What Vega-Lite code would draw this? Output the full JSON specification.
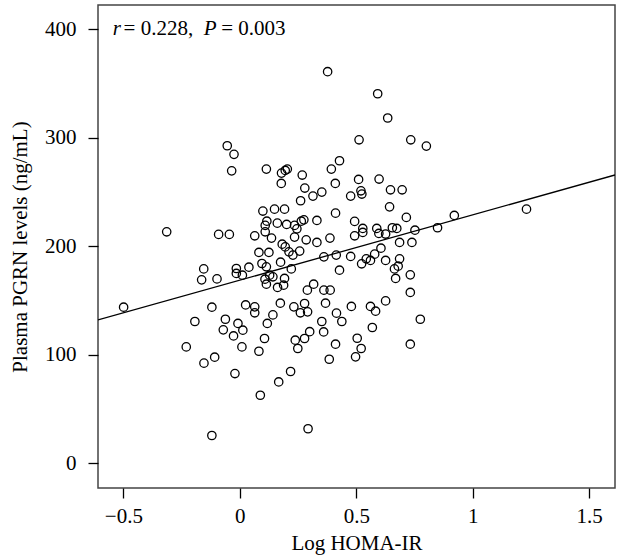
{
  "$schema": "https://vega.github.io/schema/vega-lite/v6.json",
  "width": 517,
  "height": 483,
  "autosize": {"type": "none"},
  "padding": {"left": 98, "top": 5, "right": 4, "bottom": 69},
  "background": "white",
  "config": {
    "view": {"stroke": "#444444", "strokeWidth": 1.5},
    "axis": {
      "labelFont": "Liberation Serif",
      "labelFontSize": 21,
      "labelColor": "black",
      "titleFont": "Liberation Serif",
      "titleFontSize": 21,
      "titleFontWeight": "normal",
      "titleColor": "black",
      "tickColor": "black",
      "tickSize": 10,
      "tickWidth": 1.3,
      "domain": false,
      "grid": false
    }
  },
  "datasets": {
    "points": [
      {"lx": -0.054, "pgrn": 292.7}, {"lx": -0.025, "pgrn": 284.8}, {"lx": -0.035, "pgrn": 269.6},
      {"lx": -0.314, "pgrn": 213.4}, {"lx": -0.091, "pgrn": 211.0}, {"lx": -0.045, "pgrn": 211.0},
      {"lx": -0.155, "pgrn": 179.2}, {"lx": -0.164, "pgrn": 169.1}, {"lx": -0.098, "pgrn": 170.0},
      {"lx": -0.015, "pgrn": 179.6}, {"lx": -0.015, "pgrn": 175.0}, {"lx": -0.499, "pgrn": 143.9},
      {"lx": -0.120, "pgrn": 143.9}, {"lx": -0.193, "pgrn": 130.7}, {"lx": -0.062, "pgrn": 132.8},
      {"lx": -0.071, "pgrn": 123.0}, {"lx": -0.027, "pgrn": 117.4}, {"lx": -0.008, "pgrn": 128.9},
      {"lx": 0.009, "pgrn": 107.3}, {"lx": -0.230, "pgrn": 107.3}, {"lx": -0.108, "pgrn": 97.8},
      {"lx": -0.154, "pgrn": 92.3}, {"lx": -0.021, "pgrn": 82.7}, {"lx": -0.120, "pgrn": 25.6},
      {"lx": 0.114, "pgrn": 271.2}, {"lx": 0.179, "pgrn": 267.5}, {"lx": 0.195, "pgrn": 270.0},
      {"lx": 0.204, "pgrn": 271.2}, {"lx": 0.268, "pgrn": 265.7}, {"lx": 0.178, "pgrn": 258.0},
      {"lx": 0.393, "pgrn": 271.2}, {"lx": 0.428, "pgrn": 278.9}, {"lx": 0.410, "pgrn": 258.0},
      {"lx": 0.279, "pgrn": 253.7}, {"lx": 0.314, "pgrn": 246.3}, {"lx": 0.352, "pgrn": 250.0},
      {"lx": 0.261, "pgrn": 242.0}, {"lx": 0.476, "pgrn": 246.3}, {"lx": 0.510, "pgrn": 261.7},
      {"lx": 0.520, "pgrn": 251.2}, {"lx": 0.524, "pgrn": 248.2}, {"lx": 0.099, "pgrn": 232.5},
      {"lx": 0.149, "pgrn": 234.3}, {"lx": 0.192, "pgrn": 234.3}, {"lx": 0.411, "pgrn": 230.6},
      {"lx": 0.064, "pgrn": 209.7}, {"lx": 0.109, "pgrn": 213.4}, {"lx": 0.116, "pgrn": 223.2},
      {"lx": 0.109, "pgrn": 219.3}, {"lx": 0.161, "pgrn": 221.4}, {"lx": 0.201, "pgrn": 220.2},
      {"lx": 0.235, "pgrn": 219.3}, {"lx": 0.245, "pgrn": 216.1}, {"lx": 0.264, "pgrn": 223.2},
      {"lx": 0.275, "pgrn": 224.4}, {"lx": 0.331, "pgrn": 223.9}, {"lx": 0.493, "pgrn": 223.0},
      {"lx": 0.136, "pgrn": 207.6}, {"lx": 0.235, "pgrn": 208.5}, {"lx": 0.285, "pgrn": 206.0},
      {"lx": 0.331, "pgrn": 203.6}, {"lx": 0.387, "pgrn": 207.6}, {"lx": 0.493, "pgrn": 209.7},
      {"lx": 0.182, "pgrn": 202.0}, {"lx": 0.195, "pgrn": 199.5}, {"lx": 0.211, "pgrn": 194.9},
      {"lx": 0.228, "pgrn": 191.9}, {"lx": 0.257, "pgrn": 195.6}, {"lx": 0.082, "pgrn": 194.4},
      {"lx": 0.125, "pgrn": 194.4}, {"lx": 0.361, "pgrn": 190.3}, {"lx": 0.414, "pgrn": 191.9},
      {"lx": 0.476, "pgrn": 190.7}, {"lx": 0.095, "pgrn": 184.2}, {"lx": 0.114, "pgrn": 181.1},
      {"lx": 0.175, "pgrn": 185.4}, {"lx": 0.221, "pgrn": 179.2}, {"lx": 0.428, "pgrn": 178.0},
      {"lx": 0.011, "pgrn": 173.4}, {"lx": 0.039, "pgrn": 180.8}, {"lx": 0.108, "pgrn": 169.7},
      {"lx": 0.114, "pgrn": 165.1}, {"lx": 0.128, "pgrn": 173.4}, {"lx": 0.142, "pgrn": 171.9},
      {"lx": 0.192, "pgrn": 170.4}, {"lx": 0.188, "pgrn": 164.2}, {"lx": 0.162, "pgrn": 162.1},
      {"lx": 0.317, "pgrn": 165.1}, {"lx": 0.290, "pgrn": 159.6}, {"lx": 0.361, "pgrn": 159.6},
      {"lx": 0.388, "pgrn": 159.6}, {"lx": 0.025, "pgrn": 146.0}, {"lx": 0.064, "pgrn": 144.2},
      {"lx": 0.064, "pgrn": 138.7}, {"lx": 0.174, "pgrn": 147.6}, {"lx": 0.142, "pgrn": 136.8},
      {"lx": 0.232, "pgrn": 144.2}, {"lx": 0.278, "pgrn": 147.3}, {"lx": 0.260, "pgrn": 138.7},
      {"lx": 0.291, "pgrn": 139.6}, {"lx": 0.013, "pgrn": 122.7}, {"lx": 0.118, "pgrn": 128.9},
      {"lx": 0.106, "pgrn": 115.0}, {"lx": 0.082, "pgrn": 103.3}, {"lx": 0.238, "pgrn": 113.5},
      {"lx": 0.249, "pgrn": 105.8}, {"lx": 0.278, "pgrn": 115.0}, {"lx": 0.300, "pgrn": 121.3},
      {"lx": 0.218, "pgrn": 84.6}, {"lx": 0.167, "pgrn": 75.0}, {"lx": 0.088, "pgrn": 62.7},
      {"lx": 0.293, "pgrn": 31.8}, {"lx": 0.643, "pgrn": 236.4}, {"lx": 0.528, "pgrn": 216.5},
      {"lx": 0.528, "pgrn": 212.8}, {"lx": 0.588, "pgrn": 216.5}, {"lx": 0.597, "pgrn": 211.9},
      {"lx": 0.626, "pgrn": 211.3}, {"lx": 0.655, "pgrn": 217.1}, {"lx": 0.674, "pgrn": 216.5},
      {"lx": 0.715, "pgrn": 226.7}, {"lx": 0.752, "pgrn": 214.9}, {"lx": 0.849, "pgrn": 217.1},
      {"lx": 0.921, "pgrn": 228.5}, {"lx": 1.231, "pgrn": 234.3}, {"lx": 0.686, "pgrn": 203.6},
      {"lx": 0.739, "pgrn": 203.6}, {"lx": 0.606, "pgrn": 198.3}, {"lx": 0.579, "pgrn": 192.8},
      {"lx": 0.543, "pgrn": 188.5}, {"lx": 0.523, "pgrn": 183.9}, {"lx": 0.561, "pgrn": 187.0},
      {"lx": 0.626, "pgrn": 187.0}, {"lx": 0.686, "pgrn": 188.5}, {"lx": 0.680, "pgrn": 181.7},
      {"lx": 0.664, "pgrn": 179.2}, {"lx": 0.669, "pgrn": 170.4}, {"lx": 0.732, "pgrn": 173.7},
      {"lx": 0.732, "pgrn": 157.5}, {"lx": 0.598, "pgrn": 262.0}, {"lx": 0.647, "pgrn": 252.1},
      {"lx": 0.697, "pgrn": 252.1}, {"lx": 0.377, "pgrn": 361.0}, {"lx": 0.592, "pgrn": 340.7},
      {"lx": 0.635, "pgrn": 318.3}, {"lx": 0.512, "pgrn": 298.2}, {"lx": 0.734, "pgrn": 298.2},
      {"lx": 0.801, "pgrn": 292.4}, {"lx": 0.368, "pgrn": 147.6}, {"lx": 0.479, "pgrn": 144.6},
      {"lx": 0.561, "pgrn": 144.6}, {"lx": 0.583, "pgrn": 140.2}, {"lx": 0.626, "pgrn": 149.7},
      {"lx": 0.415, "pgrn": 138.4}, {"lx": 0.438, "pgrn": 130.7}, {"lx": 0.352, "pgrn": 130.7},
      {"lx": 0.360, "pgrn": 121.1}, {"lx": 0.411, "pgrn": 109.8}, {"lx": 0.504, "pgrn": 115.3},
      {"lx": 0.521, "pgrn": 105.8}, {"lx": 0.497, "pgrn": 98.1}, {"lx": 0.384, "pgrn": 95.9},
      {"lx": 0.569, "pgrn": 125.2}, {"lx": 0.775, "pgrn": 132.8}, {"lx": 0.732, "pgrn": 109.8}
    ],
    "fit": [
      {"lx": -0.609, "pgrn": 132.1},
      {"lx": 1.611, "pgrn": 265.8}
    ]
  },
  "layer": [
    {
      "data": {"name": "points"},
      "mark": {"type": "point", "shape": "circle", "filled": false, "stroke": "black", "strokeWidth": 1.3, "size": 70, "opacity": 1},
      "encoding": {
        "x": {
          "field": "lx", "type": "quantitative",
          "scale": {"domain": [-0.609, 1.611], "nice": false, "zero": false},
          "axis": {"title": "Log HOMA-IR", "values": [-0.5, 0, 0.5, 1, 1.5], "format": "~f", "labelPadding": 7, "titlePadding": 6}
        },
        "y": {
          "field": "pgrn", "type": "quantitative",
          "scale": {"domain": [-22.8, 422.5], "nice": false, "zero": false},
          "axis": {"title": "Plasma PGRN levels (ng/mL)", "values": [0, 100, 200, 300, 400], "labelPadding": 12, "titlePadding": 14}
        }
      }
    },
    {
      "data": {"name": "fit"},
      "mark": {"type": "line", "color": "black", "strokeWidth": 1.3, "clip": true},
      "encoding": {
        "x": {"field": "lx", "type": "quantitative"},
        "y": {"field": "pgrn", "type": "quantitative"}
      }
    },
    {
      "data": {"values": [{"t": "r"}]},
      "mark": {"type": "text", "font": "Liberation Serif", "fontSize": 21, "fontStyle": "italic", "align": "left", "baseline": "middle", "color": "black"},
      "encoding": {"x": {"datum": -0.546}, "y": {"datum": 400}, "text": {"field": "t"}}
    },
    {
      "data": {"values": [{"t": "= 0.228,"}]},
      "mark": {"type": "text", "font": "Liberation Serif", "fontSize": 21, "align": "left", "baseline": "middle", "color": "black"},
      "encoding": {"x": {"datum": -0.499}, "y": {"datum": 400}, "text": {"field": "t"}}
    },
    {
      "data": {"values": [{"t": "P"}]},
      "mark": {"type": "text", "font": "Liberation Serif", "fontSize": 21, "fontStyle": "italic", "align": "left", "baseline": "middle", "color": "black"},
      "encoding": {"x": {"datum": -0.155}, "y": {"datum": 400}, "text": {"field": "t"}}
    },
    {
      "data": {"values": [{"t": "= 0.003"}]},
      "mark": {"type": "text", "font": "Liberation Serif", "fontSize": 21, "align": "left", "baseline": "middle", "color": "black"},
      "encoding": {"x": {"datum": -0.08}, "y": {"datum": 400}, "text": {"field": "t"}}
    }
  ]
}
